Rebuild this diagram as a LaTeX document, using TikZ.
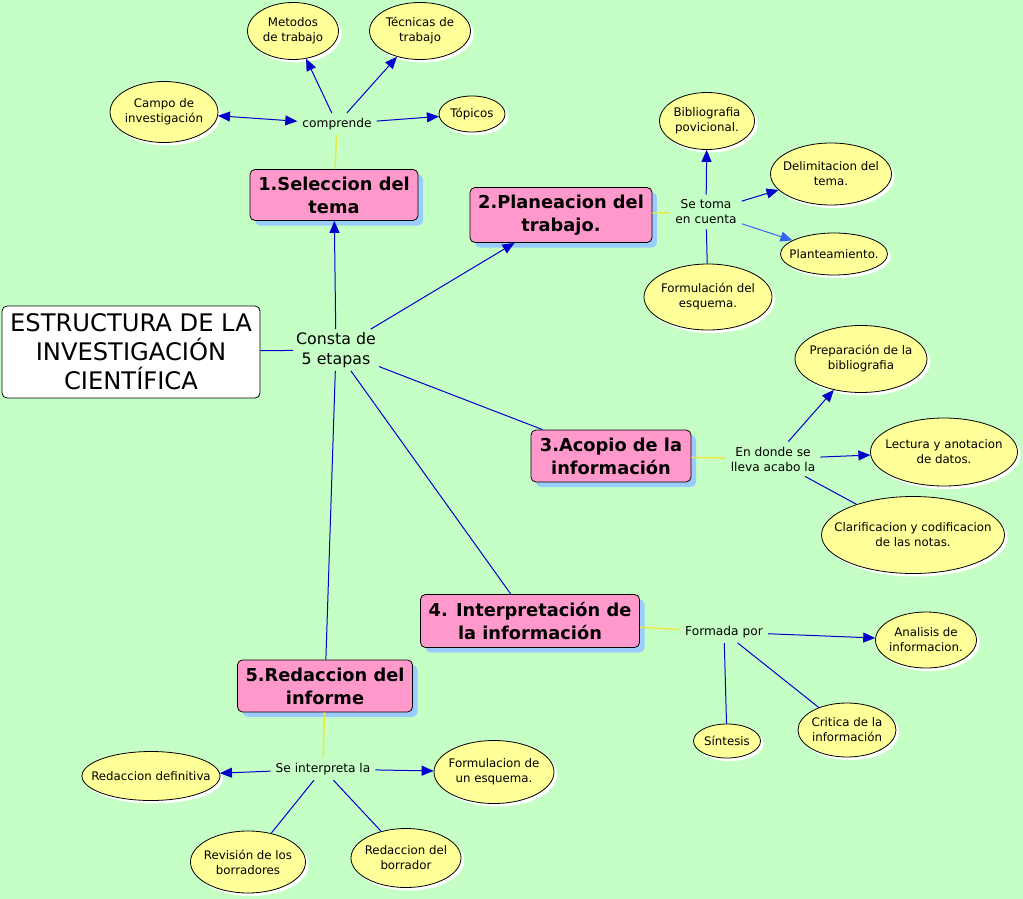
\documentclass[tikz,border=0pt]{standalone}
\usepackage{fontspec}
\setmainfont{DejaVu Sans}
\usetikzlibrary{shapes.geometric,arrows.meta,shadows}
\definecolor{bg}{RGB}{198,255,198}
\definecolor{ellfill}{RGB}{255,255,153}
\definecolor{boxfill}{RGB}{255,153,204}
\definecolor{shadowblue}{RGB}{153,204,255}
\definecolor{linkblue}{RGB}{0,0,204}
\definecolor{lightblue}{RGB}{51,102,238}
\definecolor{linkyellow}{RGB}{232,232,70}
\tikzset{
  ell/.style={ellipse, draw=black, fill=ellfill, line width=0.8pt, inner sep=0pt,
    drop shadow={shadow xshift=3pt, shadow yshift=-3pt, fill=white, opacity=1}},
  ltext/.style={align=center, inner sep=0pt, font=\fontsize{11.8}{15}\selectfont},
  stage/.style={rectangle, rounded corners=5pt, draw=black, fill=boxfill, line width=0.8pt, align=center,
    inner sep=0pt, font=\fontsize{17.8}{23}\selectfont\bfseries,
    drop shadow={shadow xshift=5pt, shadow yshift=-5pt, fill=shadowblue, opacity=1}},
  phrase/.style={rectangle, align=center, inner sep=5pt, font=\fontsize{12.2}{15}\selectfont},
  conn/.style={draw=linkblue, line width=1pt},
  arr/.style={conn, -{Triangle[length=12pt,width=10pt]}},
  yconn/.style={draw=linkyellow, line width=1.5pt},
}
\begin{document}
\begin{tikzpicture}[x=1pt,y=-1pt]
\fill[bg] (0,0) rectangle (1023,899);
\useasboundingbox (0,0) rectangle (1023,899);

% title
\node[draw=black, fill=white, rounded corners=5pt, line width=0.8pt, minimum width=258pt, minimum height=92pt,
  align=center, inner sep=0pt, font=\fontsize{24.2}{29}\selectfont] (title) at (131,352)
  {ESTRUCTURA DE LA\\INVESTIGACIÓN\\CIENTÍFICA};
\node[phrase, font=\fontsize{15.8}{20}\selectfont, inner sep=3pt] (consta) at (336,350) {Consta de\\5 etapas};

% stages
\node[stage, minimum width=168pt, minimum height=51pt] (s1) at (334,195) {1.Seleccion del\\tema};
\node[stage, minimum width=182pt, minimum height=55pt] (s2) at (561,215) {2.Planeacion del\\trabajo.};
\node[stage, minimum width=160pt, minimum height=52pt] (s3) at (611,456) {3.Acopio de la\\información};
\node[stage, minimum width=219pt, minimum height=53pt] (s4) at (530,621) {4. Interpretación de\\la información};
\node[stage, minimum width=175pt, minimum height=52pt] (s5) at (325,686) {5.Redaccion del\\informe};

% stage 1
\node[phrase] (p1) at (337,124) {comprende};
\node[ell, minimum width=108pt, minimum height=61pt, label={[ltext]center:{Campo de\\investigación}}] (campo) at (164,112) {};
\node[ell, minimum width=91pt, minimum height=57pt, label={[ltext]center:{Metodos\\de trabajo}}] (metodos) at (293,31) {};
\node[ell, minimum width=101pt, minimum height=57pt, label={[ltext]center:{Técnicas de\\trabajo}}] (tecnicas) at (420,31) {};
\node[ell, minimum width=66pt, minimum height=36pt, label={[ltext]center:{Tópicos}}] (topicos) at (472,114) {};

% stage 2
\node[phrase] (p2) at (706,212) {Se toma\\en cuenta};
\node[ell, minimum width=95pt, minimum height=57pt, label={[ltext]center:{Bibliografia\\povicional.}}] (biblio) at (707,121) {};
\node[ell, minimum width=121pt, minimum height=62pt, label={[ltext]center:{Delimitacion del\\tema.}}] (delim) at (831,174) {};
\node[ell, minimum width=107pt, minimum height=42pt, label={[ltext]center:{Planteamiento.}}] (plant) at (834,254) {};
\node[ell, minimum width=128pt, minimum height=66pt, label={[ltext]center:{Formulación del\\esquema.}}] (formul) at (708,297) {};

% stage 3
\node[phrase] (p3) at (773,459) {En donde se\\lleva acabo la};
\node[ell, minimum width=132pt, minimum height=67pt, label={[ltext]center:{Preparación de la\\bibliografia}}] (prep) at (861,359) {};
\node[ell, minimum width=147pt, minimum height=68pt, label={[ltext]center:{Lectura y anotacion\\de datos.}}] (lect) at (944,452) {};
\node[ell, minimum width=183pt, minimum height=77pt, label={[ltext]center:{Clarificacion y codificacion\\de las notas.}}] (clar) at (913,535) {};

% stage 4
\node[phrase] (p4) at (724,632) {Formada por};
\node[ell, minimum width=101pt, minimum height=56pt, label={[ltext]center:{Analisis de\\informacion.}}] (anal) at (926,640) {};
\node[ell, minimum width=67pt, minimum height=34pt, label={[ltext]center:{Síntesis}}] (sint) at (727,741) {};
\node[ell, minimum width=98pt, minimum height=54pt, label={[ltext]center:{Critica de la\\información}}] (crit) at (847,730) {};

% stage 5
\node[phrase] (p5) at (323,769) {Se interpreta la};
\node[ell, minimum width=138pt, minimum height=49pt, label={[ltext]center:{Redaccion definitiva}}] (rdef) at (151,776) {};
\node[ell, minimum width=120pt, minimum height=63pt, label={[ltext]center:{Formulacion de\\un esquema.}}] (fesq) at (494,772) {};
\node[ell, minimum width=115pt, minimum height=62pt, label={[ltext]center:{Revisión de los\\borradores}}] (rev) at (248,862) {};
\node[ell, minimum width=110pt, minimum height=59pt, label={[ltext]center:{Redaccion del\\borrador}}] (rbor) at (406,858) {};

% connectors: main
\draw[conn] (title) -- (consta);
\draw[arr] (consta) -- (s1);
\draw[arr] (consta) -- (s2);
\draw[conn] (consta) -- (s3);
\draw[conn] (consta) -- (s4);
\draw[conn] (consta) -- (s5);

% stage 1
\draw[yconn] (s1) -- (p1);
\draw[conn, {Triangle[length=12pt,width=10pt]}-{Triangle[length=12pt,width=10pt]}] (campo) -- (p1);
\draw[arr] (p1) -- (metodos);
\draw[arr] (p1) -- (tecnicas);
\draw[arr] (p1) -- (topicos);

% stage 2
\draw[yconn] (s2) -- (p2);
\draw[arr] (p2) -- (biblio);
\draw[arr] (p2) -- (delim);
\draw[arr, draw=lightblue, -{Triangle[length=12pt,width=10pt,fill=lightblue]}] (p2) -- (plant);
\draw[conn] (formul) -- (p2);

% stage 3
\draw[yconn] (s3) -- (p3);
\draw[arr] (p3) -- (prep);
\draw[arr] (p3) -- (lect);
\draw[conn] (p3) -- (clar);

% stage 4
\draw[yconn] (s4) -- (p4);
\draw[arr] (p4) -- (anal);
\draw[conn] (p4) -- (sint);
\draw[conn] (p4) -- (crit);

% stage 5
\draw[yconn] (s5) -- (p5);
\draw[arr] (p5) -- (rdef);
\draw[arr] (p5) -- (fesq);
\draw[conn] (p5) -- (rev);
\draw[conn] (p5) -- (rbor);
\end{tikzpicture}
\end{document}
